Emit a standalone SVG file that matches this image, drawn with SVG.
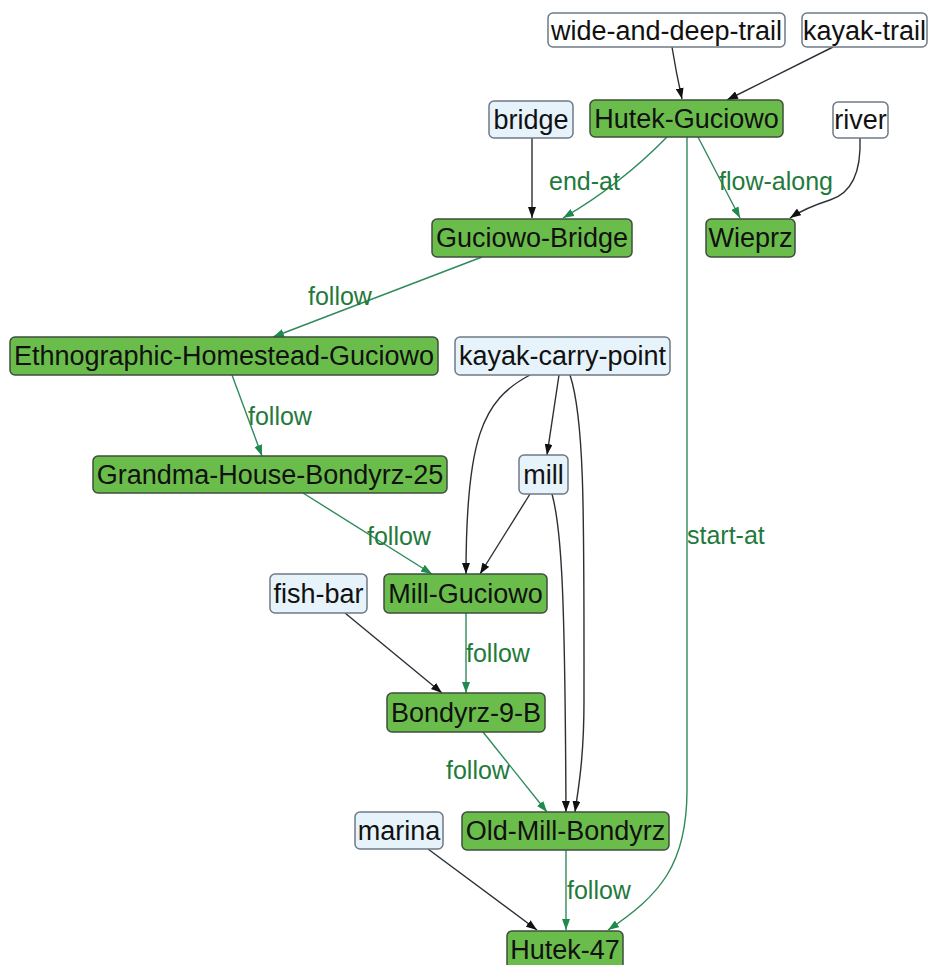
<svg xmlns="http://www.w3.org/2000/svg" width="928" height="965" viewBox="0 0 928 965">
<style>
.g rect{fill:#6bbd4b;stroke:#3f4d3f;stroke-width:1.5}
.b rect{fill:#e7f3fb;stroke:#6f7a86;stroke-width:1.5}
.w rect{fill:#ffffff;stroke:#6f7a86;stroke-width:1.5}
.n text{font-family:"Liberation Sans",Arial,sans-serif;font-size:27px;fill:#111;text-anchor:middle}
.e{fill:none;stroke-width:1.4}
.k{stroke:#2a3036;marker-end:url(#ak)}
.gr{stroke:#2f8a5a;marker-end:url(#ag)}
.lbl{font-family:"Liberation Sans",Arial,sans-serif;font-size:25px;fill:#1f7a3c}
</style>
<defs>
<marker id="ak" markerWidth="11" markerHeight="8" refX="11" refY="4" orient="auto" markerUnits="userSpaceOnUse"><path d="M0,0 L11,4 L0,8 z" fill="#111"/></marker>
<marker id="ag" markerWidth="11" markerHeight="8" refX="11" refY="4" orient="auto" markerUnits="userSpaceOnUse"><path d="M0,0 L11,4 L0,8 z" fill="#1f8a4c"/></marker>
</defs>
<rect width="928" height="965" fill="#ffffff"/>
<g id="connectors">
<path class="e k" d="M672,47 Q676,72 682,99"/>
<path class="e k" d="M833,47 L727,100"/>
<path class="e k" d="M532,138 L532,218"/>
<path class="e gr" d="M667,137 Q620,185 563,218"/>
<path class="e gr" d="M698,137 L740,218"/>
<path class="e k" d="M860,138 Q862,190 830,200 Q805,208 790,218"/>
<path class="e gr" d="M687,137 L687,790 C687,865 660,895 608,930"/>
<path class="e gr" d="M482,257 L273,337"/>
<path class="e gr" d="M232,375 L262,456"/>
<path class="e gr" d="M303,493 L432,574"/>
<path class="e k" d="M530,375 C482,400 466,440 466,574"/>
<path class="e k" d="M559,375 L547,455"/>
<path class="e k" d="M530,494 L480,574"/>
<path class="e k" d="M552,494 C562,530 565,600 566,812"/>
<path class="e k" d="M570,375 C585,420 584,520 584,700 C584,760 578,790 575,812"/>
<path class="e k" d="M345,613 L442,693"/>
<path class="e gr" d="M466,613 L466,693"/>
<path class="e gr" d="M483,732 L547,812"/>
<path class="e k" d="M428,849 L537,930"/>
<path class="e gr" d="M566,850 L566,930"/>
<text class="lbl" x="549" y="190">end-at</text>
<text class="lbl" x="719" y="190">flow-along</text>
<text class="lbl" x="308" y="305">follow</text>
<text class="lbl" x="248" y="425">follow</text>
<text class="lbl" x="367" y="545">follow</text>
<text class="lbl" x="466" y="662">follow</text>
<text class="lbl" x="446" y="779">follow</text>
<text class="lbl" x="567" y="899">follow</text>
<text class="lbl" x="687" y="544">start-at</text>
</g>
<g id="wide-and-deep-trail" class="n w"><rect x="548" y="13" width="237" height="34" rx="5"/><text x="666.5" y="40">wide-and-deep-trail</text></g>
<g id="kayak-trail" class="n w"><rect x="802" y="13" width="125" height="34" rx="5"/><text x="864.5" y="40">kayak-trail</text></g>
<g id="bridge" class="n b"><rect x="489" y="101" width="84" height="37" rx="5"/><text x="531" y="129">bridge</text></g>
<g id="Hutek-Guciowo" class="n g"><rect x="590" y="100" width="193" height="37" rx="5"/><text x="686.5" y="128">Hutek-Guciowo</text></g>
<g id="river" class="n w"><rect x="833" y="102" width="55" height="36" rx="5"/><text x="860.5" y="129">river</text></g>
<g id="Guciowo-Bridge" class="n g"><rect x="432" y="219" width="200" height="38" rx="5"/><text x="532" y="247">Guciowo-Bridge</text></g>
<g id="Wieprz" class="n g"><rect x="706" y="219" width="89" height="38" rx="5"/><text x="750.5" y="247">Wieprz</text></g>
<g id="Ethnographic-Homestead-Guciowo" class="n g"><rect x="10" y="337" width="428" height="38" rx="5"/><text x="224" y="365">Ethnographic-Homestead-Guciowo</text></g>
<g id="kayak-carry-point" class="n b"><rect x="455" y="337" width="215" height="38" rx="5"/><text x="562.5" y="365">kayak-carry-point</text></g>
<g id="Grandma-House-Bondyrz-25" class="n g"><rect x="93" y="456" width="354" height="37" rx="5"/><text x="270" y="484">Grandma-House-Bondyrz-25</text></g>
<g id="mill" class="n b"><rect x="519" y="455" width="49" height="39" rx="5"/><text x="543.5" y="484">mill</text></g>
<g id="fish-bar" class="n b"><rect x="270" y="574" width="97" height="39" rx="5"/><text x="318.5" y="603">fish-bar</text></g>
<g id="Mill-Guciowo" class="n g"><rect x="384" y="574" width="163" height="39" rx="5"/><text x="465.5" y="603">Mill-Guciowo</text></g>
<g id="Bondyrz-9-B" class="n g"><rect x="387" y="693" width="158" height="39" rx="5"/><text x="466" y="722">Bondyrz-9-B</text></g>
<g id="marina" class="n b"><rect x="355" y="812" width="88" height="37" rx="5"/><text x="399" y="840">marina</text></g>
<g id="Old-Mill-Bondyrz" class="n g"><rect x="462" y="812" width="207" height="38" rx="5"/><text x="565.5" y="840">Old-Mill-Bondyrz</text></g>
<g id="Hutek-47" class="n g"><rect x="507" y="931" width="116" height="38" rx="5"/><text x="565" y="959">Hutek-47</text></g>
</svg>
